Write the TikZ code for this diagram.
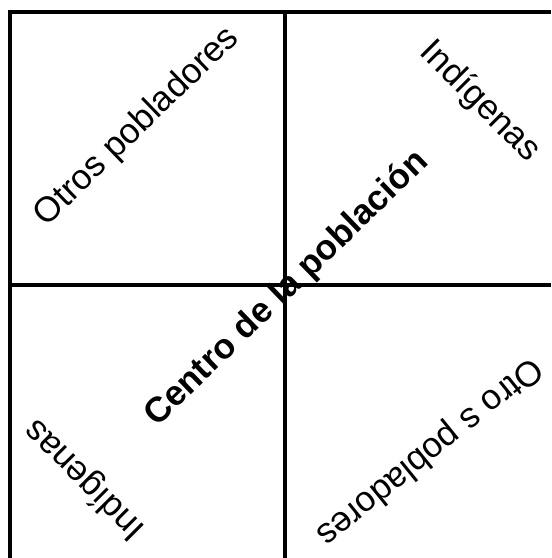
\documentclass[tikz,border=0pt]{standalone}
\usepackage{fontspec}
\setmainfont{Liberation Sans}
\usepackage{tikz}
\usetikzlibrary{positioning, calc}

\tikzset{
  grid line/.style={line width=1.25pt, black},
  quarter label/.style={font=\fontsize{10}{12}\selectfont, inner sep=0pt}
}

\begin{document}
\begin{tikzpicture}
\useasboundingbox (0,0) rectangle (5.51,5.58);

% Corners and crossing
\coordinate (tl) at (0.10,5.46);
\coordinate (tr) at (5.51,5.46);
\coordinate (bl) at (0.10,0);
\coordinate (topmid) at (2.85,5.46);
\coordinate (botmid) at (2.85,0);
\coordinate (leftmid) at (0.10,2.73);
\coordinate (rightmid) at (5.51,2.73);

% Grid
\draw[grid line] (bl) -- (tl) -- (tr);
\draw[grid line] (topmid) -- (botmid);
\draw[grid line] (leftmid) -- (rightmid);

% Labels in each quarter
\node[quarter label, rotate=44] (otrosTL) at (1.37,4.31) {Otros pobladores};
\node[quarter label, rotate=-45] (indigTR) at (4.80,4.56) {Indígenas};
\node[quarter label, rotate=135] (indigBL) at (0.85,0.79) {Indígenas};
\node[quarter label, rotate=-141] (otrosBR) at (4.29,1.07) {Otro s pobladores};

% Center
\node[quarter label, rotate=44, font=\fontsize{10}{12}\selectfont\bfseries] (centro) at (2.87,2.69) {Centro de la población};
\end{tikzpicture}
\end{document}
